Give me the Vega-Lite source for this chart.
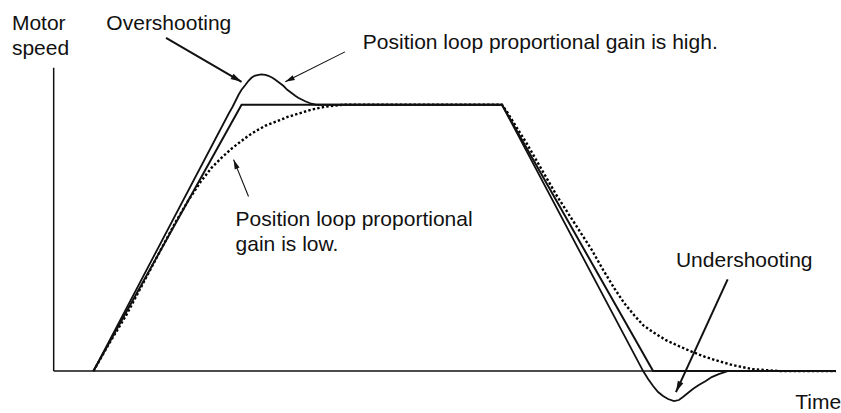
{
  "$schema": "https://vega.github.io/schema/vega-lite/v6.json",
  "width": 841,
  "height": 413,
  "padding": 0,
  "autosize": {"type": "fit", "contains": "padding"},
  "background": "white",
  "config": {"view": {"stroke": null}},
  "datasets": {
    "curves": [
      {"series": "command", "t": 94, "v": 0},
      {"series": "command", "t": 243, "v": 267},
      {"series": "command", "t": 505, "v": 267},
      {"series": "command", "t": 657, "v": 0},
      {"series": "command", "t": 841, "v": 0},
      {"series": "high", "t": 94, "v": 0},
      {"series": "high", "t": 230, "v": 258},
      {"series": "high", "t": 234, "v": 265},
      {"series": "high", "t": 237, "v": 271},
      {"series": "high", "t": 240, "v": 277},
      {"series": "high", "t": 243, "v": 282},
      {"series": "high", "t": 247, "v": 287},
      {"series": "high", "t": 250, "v": 291},
      {"series": "high", "t": 253, "v": 294},
      {"series": "high", "t": 256, "v": 296},
      {"series": "high", "t": 260, "v": 297},
      {"series": "high", "t": 263, "v": 297.5},
      {"series": "high", "t": 267, "v": 297},
      {"series": "high", "t": 270, "v": 296},
      {"series": "high", "t": 274, "v": 294},
      {"series": "high", "t": 277, "v": 292},
      {"series": "high", "t": 281, "v": 289},
      {"series": "high", "t": 285, "v": 286},
      {"series": "high", "t": 289, "v": 282},
      {"series": "high", "t": 293, "v": 279},
      {"series": "high", "t": 297, "v": 276},
      {"series": "high", "t": 300, "v": 274},
      {"series": "high", "t": 304, "v": 272},
      {"series": "high", "t": 307, "v": 270.5},
      {"series": "high", "t": 312, "v": 268.5},
      {"series": "high", "t": 318, "v": 267},
      {"series": "high", "t": 505, "v": 267},
      {"series": "high", "t": 647, "v": 0},
      {"series": "high", "t": 652, "v": -8},
      {"series": "high", "t": 657, "v": -15},
      {"series": "high", "t": 662, "v": -21},
      {"series": "high", "t": 667, "v": -25},
      {"series": "high", "t": 672, "v": -28},
      {"series": "high", "t": 678, "v": -30},
      {"series": "high", "t": 683, "v": -29},
      {"series": "high", "t": 687, "v": -26},
      {"series": "high", "t": 692, "v": -22},
      {"series": "high", "t": 697, "v": -18},
      {"series": "high", "t": 703, "v": -14},
      {"series": "high", "t": 710, "v": -10},
      {"series": "high", "t": 716, "v": -6},
      {"series": "high", "t": 723, "v": -3},
      {"series": "high", "t": 732, "v": 0},
      {"series": "high", "t": 841, "v": 0},
      {"series": "low", "t": 94, "v": 0},
      {"series": "low", "t": 110, "v": 28},
      {"series": "low", "t": 127, "v": 56},
      {"series": "low", "t": 145, "v": 90},
      {"series": "low", "t": 163, "v": 124},
      {"series": "low", "t": 177, "v": 150},
      {"series": "low", "t": 190, "v": 172},
      {"series": "low", "t": 202, "v": 190},
      {"series": "low", "t": 213, "v": 204},
      {"series": "low", "t": 223, "v": 214},
      {"series": "low", "t": 233, "v": 223},
      {"series": "low", "t": 242, "v": 230},
      {"series": "low", "t": 250, "v": 236},
      {"series": "low", "t": 258, "v": 241},
      {"series": "low", "t": 267, "v": 246},
      {"series": "low", "t": 280, "v": 251},
      {"series": "low", "t": 290, "v": 255},
      {"series": "low", "t": 300, "v": 258},
      {"series": "low", "t": 313, "v": 262},
      {"series": "low", "t": 327, "v": 265},
      {"series": "low", "t": 345, "v": 267},
      {"series": "low", "t": 505, "v": 267},
      {"series": "low", "t": 510, "v": 260},
      {"series": "low", "t": 518, "v": 247},
      {"series": "low", "t": 530, "v": 228},
      {"series": "low", "t": 560, "v": 176},
      {"series": "low", "t": 595, "v": 122},
      {"series": "low", "t": 607, "v": 101},
      {"series": "low", "t": 618, "v": 83},
      {"series": "low", "t": 628, "v": 68},
      {"series": "low", "t": 638, "v": 56},
      {"series": "low", "t": 647, "v": 46},
      {"series": "low", "t": 657, "v": 39},
      {"series": "low", "t": 670, "v": 31},
      {"series": "low", "t": 683, "v": 25},
      {"series": "low", "t": 697, "v": 19},
      {"series": "low", "t": 710, "v": 14},
      {"series": "low", "t": 723, "v": 10},
      {"series": "low", "t": 737, "v": 6},
      {"series": "low", "t": 747, "v": 4},
      {"series": "low", "t": 757, "v": 2},
      {"series": "low", "t": 770, "v": 1},
      {"series": "low", "t": 785, "v": 0},
      {"series": "low", "t": 841, "v": 0}
    ],
    "axes": [
      {"t": 54, "v": 0, "t2": 54, "v2": 304},
      {"t": 54, "v": 0, "t2": 841, "v2": 0}
    ],
    "arrows": [
      {"kind": "bold", "t": 167, "v": 334, "t2": 243, "v2": 290},
      {"kind": "thin", "t": 347, "v": 320, "t2": 287, "v2": 290},
      {"kind": "thin", "t": 250, "v": 175, "t2": 235, "v2": 212},
      {"kind": "bold", "t": 732, "v": 92, "t2": 680, "v2": -21}
    ],
    "labels": [
      {"label": "Motor", "t": 12, "v": 342},
      {"label": "speed", "t": 12, "v": 317},
      {"label": "Overshooting", "t": 107, "v": 342},
      {"label": "Position loop proportional gain is high.", "t": 365, "v": 323},
      {"label": "Position loop proportional", "t": 237, "v": 145},
      {"label": "gain is low.", "t": 237, "v": 120},
      {"label": "Undershooting", "t": 680, "v": 104},
      {"label": "Time", "t": 800, "v": -38}
    ]
  },
  "layer": [
    {
      "data": {"name": "axes"},
      "mark": {"type": "rule", "color": "#111111", "strokeWidth": 1.5},
      "encoding": {
        "x": {"field": "t", "type": "quantitative", "scale": {"domain": [0, 841], "nice": false, "zero": false}, "axis": null},
        "y": {"field": "v", "type": "quantitative", "scale": {"domain": [-41, 372], "nice": false, "zero": false}, "axis": null},
        "x2": {"field": "t2"},
        "y2": {"field": "v2"}
      }
    },
    {
      "data": {"name": "curves"},
      "transform": [{"filter": "datum.series === 'low'"}],
      "mark": {"type": "line", "color": "#000000", "strokeWidth": 2.4, "strokeDash": [2.4, 2.2]},
      "encoding": {
        "x": {"field": "t", "type": "quantitative"},
        "y": {"field": "v", "type": "quantitative"}
      }
    },
    {
      "data": {"name": "curves"},
      "transform": [{"filter": "datum.series === 'command'"}],
      "mark": {"type": "line", "color": "#111111", "strokeWidth": 2},
      "encoding": {
        "x": {"field": "t", "type": "quantitative"},
        "y": {"field": "v", "type": "quantitative"}
      }
    },
    {
      "data": {"name": "curves"},
      "transform": [{"filter": "datum.series === 'high'"}],
      "mark": {"type": "line", "color": "#111111", "strokeWidth": 1.8},
      "encoding": {
        "x": {"field": "t", "type": "quantitative"},
        "y": {"field": "v", "type": "quantitative"}
      }
    },
    {
      "data": {"name": "arrows"},
      "mark": {"type": "rule", "color": "#111111"},
      "encoding": {
        "x": {"field": "t", "type": "quantitative"},
        "y": {"field": "v", "type": "quantitative"},
        "x2": {"field": "t2"},
        "y2": {"field": "v2"},
        "strokeWidth": {"field": "kind", "type": "nominal", "scale": {"domain": ["bold", "thin"], "range": [2, 1.1]}, "legend": null}
      }
    },
    {
      "data": {"name": "arrows"},
      "transform": [{"calculate": "(atan2(datum.t2 - datum.t, datum.v2 - datum.v) * 180 / PI + 360) % 360", "as": "ang"}],
      "mark": {"type": "point", "shape": "M0,0L-0.55,2L0.55,2Z", "filled": true, "color": "#111111", "opacity": 1, "strokeWidth": 0},
      "encoding": {
        "x": {"field": "t2", "type": "quantitative"},
        "y": {"field": "v2", "type": "quantitative"},
        "angle": {"field": "ang", "type": "quantitative", "scale": null},
        "size": {"field": "kind", "type": "nominal", "scale": {"domain": ["bold", "thin"], "range": [121, 90]}, "legend": null}
      }
    },
    {
      "data": {"name": "labels"},
      "mark": {"type": "text", "align": "left", "baseline": "alphabetic", "font": "Liberation Sans", "fontSize": 21, "color": "#111111"},
      "encoding": {
        "x": {"field": "t", "type": "quantitative"},
        "y": {"field": "v", "type": "quantitative"},
        "text": {"field": "label"}
      }
    }
  ]
}
